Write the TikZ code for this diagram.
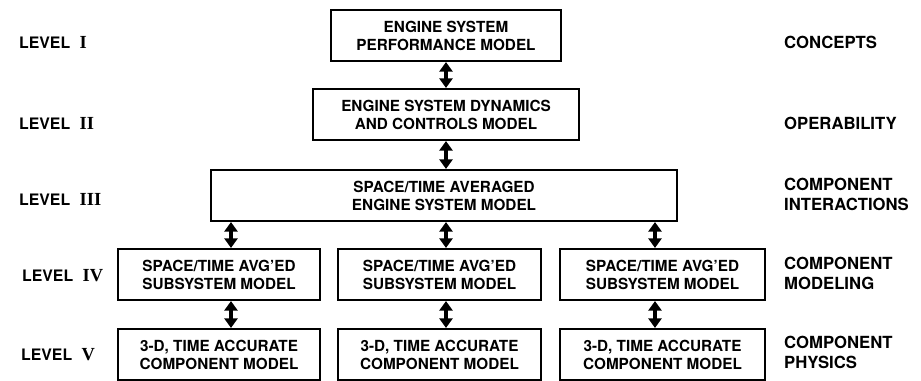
\documentclass[tikz,border=0pt]{standalone}
\usepackage{fontspec}
\setmainfont{TeX Gyre Heros}
\newfontfamily\romnum{Liberation Serif}
\usetikzlibrary{arrows.meta}

\begin{document}
\begin{tikzpicture}[x=0.02cm, y=-0.02cm,
  box/.style={draw, line width=1.2pt, inner sep=0pt, minimum height=1.02cm, align=center, font=\fontsize{8.7}{10.2}\selectfont\bfseries},
  lvl/.style={anchor=west, font=\fontsize{9}{11}\selectfont\bfseries},
  aim/.style={anchor=west, align=left, font=\fontsize{9.5}{11.3}\selectfont\bfseries},
  link/.style={{Triangle[width=7.5pt,length=5.5pt]}-{Triangle[width=7.5pt,length=5.5pt]}, line width=2pt}]
\useasboundingbox (0,0) rectangle (921,381);
\node  (1)[box, minimum width=4.6cm]  at (446,35.5) {ENGINE SYSTEM\\PERFORMANCE MODEL};
\node  (2)[box, minimum width=5.32cm] at (446,114.5) {ENGINE SYSTEM DYNAMICS\\AND CONTROLS MODEL};
\node  (3)[box, minimum width=9.32cm] at (444,195.5) {SPACE/TIME AVERAGED\\ENGINE SYSTEM MODEL};
\node  (4)[box, minimum width=4.04cm] at (219,274.5) {SPACE/TIME AVG'ED\\SUBSYSTEM MODEL};
\node  (5)[box, minimum width=4.06cm] at (439.5,274.5) {SPACE/TIME AVG'ED\\SUBSYSTEM MODEL};
\node  (6)[box, minimum width=4.1cm]  at (662.5,274.5) {SPACE/TIME AVG'ED\\SUBSYSTEM MODEL};
\node  (7)[box, minimum width=4.04cm] at (219,354.5) {3-D, TIME ACCURATE\\COMPONENT MODEL};
\node  (8)[box, minimum width=4.06cm] at (439.5,354.5) {3-D, TIME ACCURATE\\COMPONENT MODEL};
\node  (9)[box, minimum width=4.1cm]  at (662.5,354.5) {3-D, TIME ACCURATE\\COMPONENT MODEL};
\node  (l1)[lvl] at (13,42)  {LEVEL\hspace{0.6em}{\romnum\fontsize{10.5}{11}\selectfont I}};
\node  (l2)[lvl] at (13,123) {LEVEL\hspace{0.6em}{\romnum\fontsize{10.5}{11}\selectfont II}};
\node  (l3)[lvl] at (13,199) {LEVEL\hspace{0.6em}{\romnum\fontsize{10.5}{11}\selectfont III}};
\node  (l4)[lvl] at (16,276) {LEVEL\hspace{0.6em}{\romnum\fontsize{10.5}{11}\selectfont IV}};
\node  (l5)[lvl] at (15,355) {LEVEL\hspace{0.6em}{\romnum\fontsize{10.5}{11}\selectfont V}};
\node  (r1)[aim] at (778,42)  {CONCEPTS};
\node  (r2)[aim] at (778,123) {OPERABILITY};
\node  (r3)[aim] at (778,194) {COMPONENT\\INTERACTIONS};
\node  (r4)[aim] at (778,273) {COMPONENT\\MODELING};
\node  (r5)[aim] at (778,352) {COMPONENT\\PHYSICS};
\coordinate (c1) at (231,0);
\coordinate (c2) at (446,0);
\coordinate (c3) at (655,0);
\draw[link] (1) -- (2);
\draw[link] (2.south -| c2) -- (3.north -| c2);
\draw[link] (3.south -| c1) -- (4.north -| c1);
\draw[link] (3.south -| c2) -- (5.north -| c2);
\draw[link] (3.south -| c3) -- (6.north -| c3);
\draw[link] (4.south -| c1) -- (7.north -| c1);
\draw[link] (5.south -| c2) -- (8.north -| c2);
\draw[link] (6.south -| c3) -- (9.north -| c3);
\end{tikzpicture}
\end{document}
